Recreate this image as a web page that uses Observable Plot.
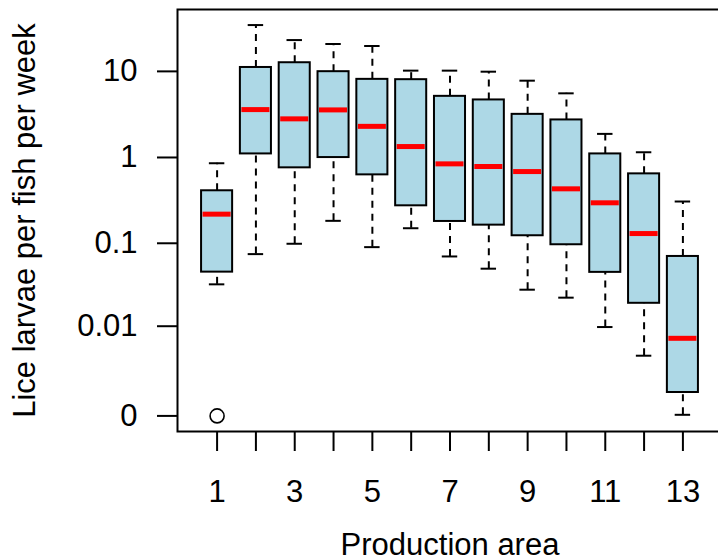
<!DOCTYPE html>
<html>
<head>
<meta charset="utf-8">
<script src="https://cdn.jsdelivr.net/npm/d3@7"></script>
<script src="https://cdn.jsdelivr.net/npm/@observablehq/plot@0.6"></script>
<style>
  html, body { margin: 0; padding: 0; background: #fff; }
  #chart svg { display: block; overflow: hidden; }
</style>
</head>
<body>
<div id="chart"></div>
<script>
const areas       = [1, 2, 3, 4, 5, 6, 7, 8, 9, 10, 11, 12, 13];
const whiskerLow  = [0.0327, 0.0746, 0.0987, 0.183, 0.0901, 0.150, 0.070, 0.0502, 0.0282, 0.0226, 0.00976, 0.0040, 0.00003];
const quart1      = [0.0457, 1.10, 0.758, 0.998, 0.628, 0.274, 0.180, 0.163, 0.1225, 0.0961, 0.0454, 0.0193, 0.00087];
const medians     = [0.219, 3.60, 2.81, 3.57, 2.30, 1.34, 0.843, 0.785, 0.686, 0.432, 0.297, 0.130, 0.00696];
const quart3      = [0.410, 11.1, 12.6, 9.92, 8.08, 8.01, 5.13, 4.66, 3.17, 2.73, 1.10, 0.645, 0.070];
const whiskerHigh = [0.857, 34.5, 23.1, 20.8, 19.7, 10.2, 10.2, 9.92, 7.80, 5.56, 1.88, 1.15, 0.3075];
const outlierAreas  = [1];
const outlierValues = [0];
const yTickValues = [0, 0.01, 0.1, 1, 10];
const yTickLabels = ["0", "0.01", "0.1", "1", "10"];
const xTickLabels = ["1", "", "3", "", "5", "", "7", "", "9", "", "11", "", "13"];
const xTitle = "Production area";
const yTitle = "Lice larvae per fish per week";

const boxes = areas.map((a, i) => ({
  area: a, lo: whiskerLow[i], q1: quart1[i], med: medians[i], q3: quart3[i], hi: whiskerHigh[i]
}));
const outliers = outlierAreas.map((a, i) => ({area: a, value: outlierValues[i]}));

const font = "'Liberation Sans', Arial, sans-serif";

const chart = Plot.plot({
  width: 718,
  height: 560,
  marginLeft: 177,
  marginTop: 9,
  marginBottom: 129,
  marginRight: -4,
  style: {fontFamily: font, fontSize: "31px", background: "white", color: "black"},
  x: {type: "band", domain: areas, paddingInner: 0.2, paddingOuter: 0.62, round: false, label: null},
  y: {type: "symlog", constant: 0.001, domain: [-0.000517, 52.3], label: null},
  marks: [
    Plot.ruleX(boxes, {x: "area", y1: "q3", y2: "hi", stroke: "black", strokeWidth: 2, strokeDasharray: "7,6"}),
    Plot.ruleX(boxes, {x: "area", y1: "lo", y2: "q1", stroke: "black", strokeWidth: 2, strokeDasharray: "7,6"}),
    Plot.tickY(boxes, {x: "area", y: "hi", stroke: "black", strokeWidth: 2, insetLeft: 7.8, insetRight: 7.8}),
    Plot.tickY(boxes, {x: "area", y: "lo", stroke: "black", strokeWidth: 2, insetLeft: 7.8, insetRight: 7.8}),
    Plot.barY(boxes, {x: "area", y1: "q1", y2: "q3", fill: "#ADD8E6", stroke: "black", strokeWidth: 2}),
    Plot.tickY(boxes, {x: "area", y: "med", stroke: "red", strokeWidth: 5, insetLeft: 1.5, insetRight: 1.5}),
    Plot.dot(outliers, {x: "area", y: "value", r: 7, stroke: "black", strokeWidth: 1.6, fill: "none"}),
    Plot.axisY({
      ticks: yTickValues,
      tickFormat: d => yTickLabels[yTickValues.indexOf(d)],
      tickSize: 20, tickPadding: 20, strokeWidth: 2,
      fontSize: 31,
      label: yTitle, labelAnchor: "center", labelArrow: "none", labelOffset: 165
    }),
    Plot.axisX({
      tickFormat: d => xTickLabels[areas.indexOf(d)],
      tickSize: 20, tickPadding: 28, strokeWidth: 2,
      fontSize: 31,
      label: xTitle, labelAnchor: "center", labelArrow: "none", labelOffset: 123
    }),
    Plot.frame({stroke: "black", strokeWidth: 2})
  ]
});
document.getElementById("chart").appendChild(chart);
</script>
</body>
</html>
